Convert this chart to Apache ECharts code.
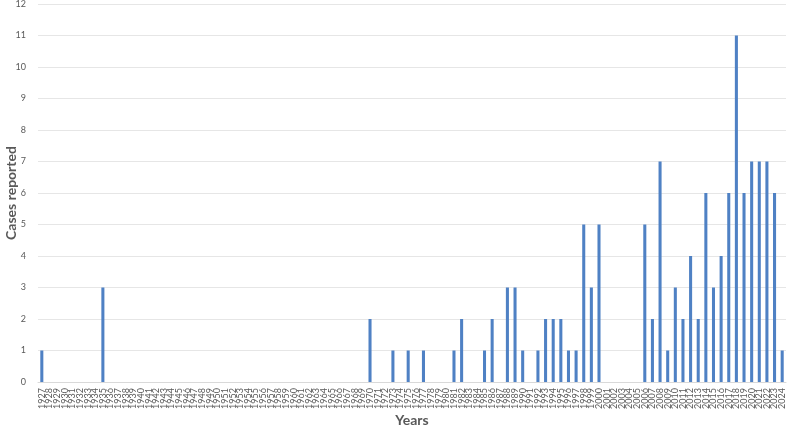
<!DOCTYPE html>
<html>
<head>
<meta charset="utf-8">
<script src="https://cdn.jsdelivr.net/npm/echarts@6/dist/echarts.min.js"></script>
<style>
  html, body { margin: 0; padding: 0; background: #fff; }
  #chart { width: 790px; height: 427px; }
</style>
</head>
<body>
<div id="chart"></div>
<script>
  // years 1927..2024
  const years = [];
  for (let y = 1927; y <= 2024; y++) years.push(String(y));

  // cases per year (missing years = 0)
  const casesByYear = {
    1927: 1, 1935: 3,
    1970: 2, 1973: 1, 1975: 1, 1977: 1, 1981: 1, 1982: 2, 1985: 1, 1986: 2,
    1988: 3, 1989: 3, 1990: 1, 1992: 1, 1993: 2, 1994: 2, 1995: 2, 1996: 1,
    1997: 1, 1998: 5, 1999: 3, 2000: 5,
    2006: 5, 2007: 2, 2008: 7, 2009: 1, 2010: 3, 2011: 2, 2012: 4, 2013: 2,
    2014: 6, 2015: 3, 2016: 4, 2017: 6, 2018: 11, 2019: 6, 2020: 7, 2021: 7,
    2022: 7, 2023: 6, 2024: 1
  };
  const cases = years.map(y => casesByYear[y] || 0);

  const chart = echarts.init(document.getElementById('chart'));
  chart.setOption({
    animation: false,
    textStyle: { fontFamily: 'Lato' },
    grid: { left: 38, right: 4, top: 4, bottom: 45, containLabel: false, outerBoundsMode: 'none' },
    xAxis: {
      type: 'category',
      data: years,
      name: 'Years',
      nameLocation: 'middle',
      nameGap: 31,
      nameMoveOverlap: false,
      nameTextStyle: { fontSize: 14, fontWeight: 'bold', color: '#595959' },
      axisTick: { show: false },
      axisLine: { lineStyle: { color: '#d9d9d9' } },
      axisLabel: { interval: 0, rotate: 90, fontSize: 9, color: '#595959', margin: 6 }
    },
    yAxis: {
      type: 'value',
      min: 0, max: 12, interval: 1,
      name: 'Cases reported',
      nameLocation: 'middle',
      nameGap: 20,
      nameMoveOverlap: false,
      nameTextStyle: { fontSize: 14, fontWeight: 'bold', color: '#595959' },
      axisLabel: { fontSize: 9, color: '#595959', margin: 12 },
      splitLine: { lineStyle: { color: '#e6e6e6' } }
    },
    series: [{
      type: 'bar',
      data: cases,
      barWidth: '40%',
      itemStyle: { color: '#4f81c4' }
    }]
  });
</script>
</body>
</html>
